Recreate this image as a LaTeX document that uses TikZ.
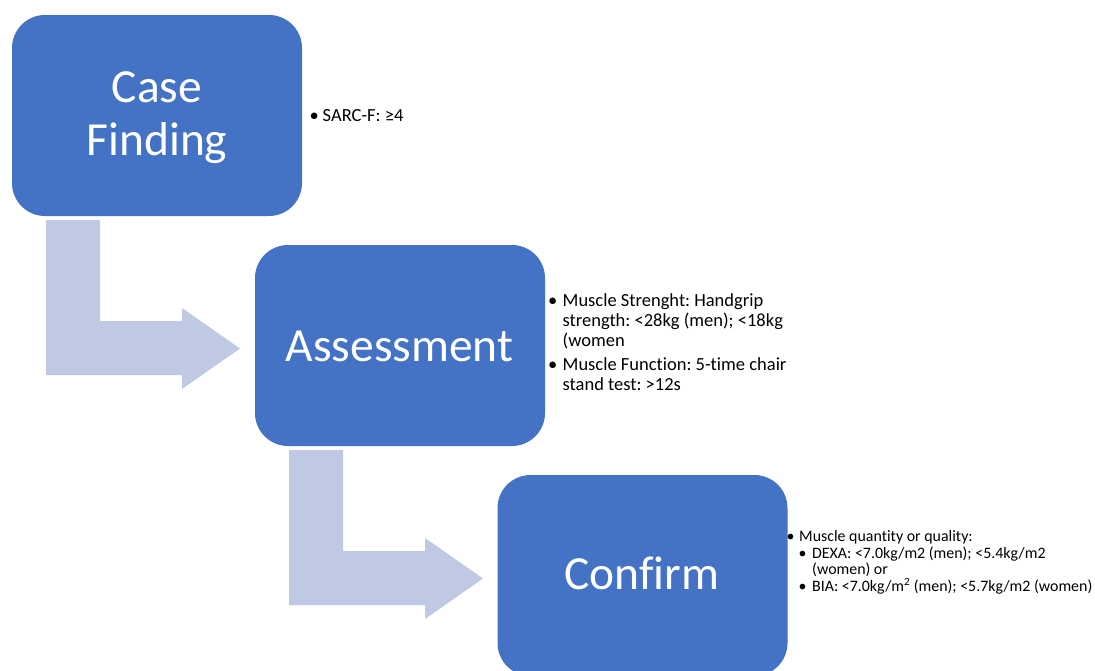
\documentclass[tikz,border=0pt]{standalone}
\usepackage{fontspec}
\setmainfont[Ligatures={NoCommon}]{Carlito}
\frenchspacing
\definecolor{boxblue}{HTML}{4472C4}
\definecolor{arrowblue}{HTML}{BFC9E4}
\begin{document}
\begin{tikzpicture}[x=1pt,y=-1pt]
\tikzset{
  stagebox/.style={fill=boxblue, draw=none, rounded corners=33pt, minimum width=290pt, minimum height=201pt, inner sep=0pt},
  stagelabel/.style={anchor=base, inner sep=0pt, text=white, font=\fontsize{47.5}{52}\selectfont},
  bendarrow/.style={fill=arrowblue, draw=none},
  bul/.style={anchor=base west, inner sep=0pt, font=\fontsize{18.5}{20}\selectfont},
  txt/.style={anchor=base west, inner sep=0pt, font=\fontsize{18.5}{20}\selectfont},
  bulsmall/.style={anchor=base west, inner sep=0pt, font=\fontsize{15.9}{17}\selectfont},
  txtsmall/.style={anchor=base west, inner sep=0pt, font=\fontsize{15.9}{17}\selectfont},
}
\useasboundingbox (0,0) rectangle (1095,670);
% bent arrows
\fill[bendarrow] (46,220) -- (100,220) -- (100,321) -- (182,321) -- (182,308) -- (240,348.5) -- (182,389) -- (182,375) -- (46,375) -- cycle;
\fill[bendarrow] (289,450) -- (343,450) -- (343,551) -- (425,551) -- (425,538) -- (483,578.5) -- (425,619) -- (425,605) -- (289,605) -- cycle;
% boxes
\node[stagebox] (cf) at (157,115.5) {};
\node[stagebox] (as) at (400,345.5) {};
\node[stagebox] (co) at (642.5,575.5) {};
\node[stagelabel] (cfa) at (157,102) {Case};
\node[stagelabel] (cfb) at (157,155) {Finding};
\node[stagelabel] (asl) at (399.5,361) {Assessment};
\node[stagelabel] (col) at (641.5,589.5) {Confirm};
% case finding text
\node[bul] (b1) at (309.5,121) {\textbullet};
\node[txt] (t1) at (322.5,121) {SARC-F: ≥4};
% assessment text
\node[bul] (b2) at (548,306.5) {\textbullet};
\node[txt] (t2a) at (562.5,306.5) {Muscle Strenght: Handgrip};
\node[txt] (t2b) at (562.5,326.5) {strength: <28kg (men); <18kg};
\node[txt] (t2c) at (562.5,346) {(women};
\node[bul] (b3) at (548,370) {\textbullet};
\node[txt] (t3a) at (562.5,370) {Muscle Function: 5-time chair};
\node[txt] (t3b) at (562.5,390) {stand test: >12s};
% confirm text
\node[bulsmall] (b4) at (786.5,541.5) {\textbullet};
\node[txtsmall] (t4) at (799,541.5) {Muscle quantity or quality:};
\node[bulsmall] (b5) at (798.5,558) {\textbullet};
\node[txtsmall] (t5a) at (812,558) {DEXA: <7.0kg/m2 (men); <5.4kg/m2};
\node[txtsmall] (t5b) at (812,574.5) {(women) or};
\node[bulsmall] (b6) at (798.5,591.5) {\textbullet};
\node[txtsmall] (t6) at (812,591.5) {BIA: <7.0kg/m\textsuperscript{2} (men); <5.7kg/m2 (women)};
\end{tikzpicture}
\end{document}
